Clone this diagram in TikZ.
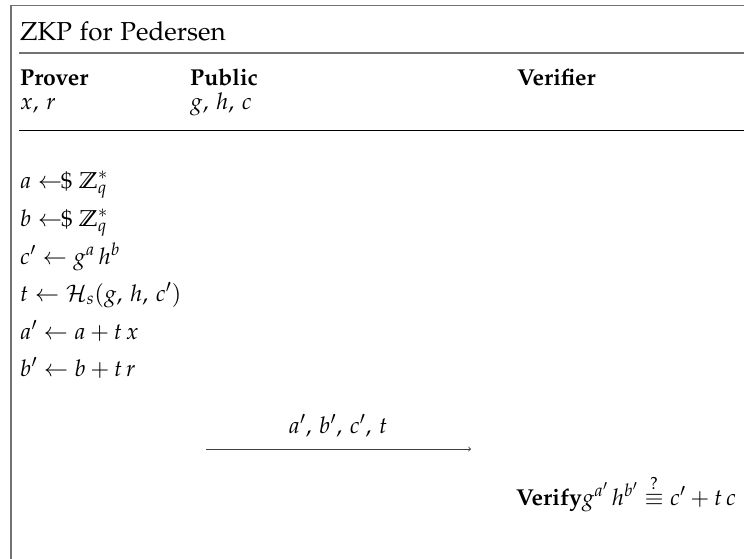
\documentclass[tikz,border=0pt]{standalone}
\usepackage[T1]{fontenc}
\usepackage{amsmath,amssymb}
\usepackage[sc]{mathpazo}
\newcommand{\smplarrow}{\mathrel{\leftarrow\!\!\text{\$}}}
\tikzset{
  body/.style={anchor=base west, inner sep=0pt, font=\fontsize{23}{27}\selectfont},
  ttl/.style={anchor=base west, inner sep=0pt, font=\fontsize{26}{31}\selectfont},
  hdr/.style={body, font=\fontsize{23}{27}\selectfont\bfseries},
  frameline/.style={draw=black!55, line width=1.4pt},
  rule/.style={draw=black, line width=1pt},
  msg/.style={draw=black!75, line width=0.9pt, ->},
}
\begin{document}
\begin{tikzpicture}[x=1pt,y=-1pt]
\useasboundingbox (0,0) rectangle (744,558);
% frame
\coordinate (tl) at (11,5.5);
\coordinate (tr) at (750,5.5);
\coordinate (bl) at (11,565);
\draw[frameline] (bl) -- (tl) -- (tr);
\coordinate (r1a) at (19,53);
\coordinate (r1b) at (750,53);
\draw[frameline] (r1a) -- (r1b);
\coordinate (r2a) at (19,130);
\coordinate (r2b) at (750,130);
\draw[rule] (r2a) -- (r2b);
% title
\node[ttl] (title) at (20,40) {ZKP for Pedersen};
% headers
\node[hdr] (prover) at (20,85) {Prover};
\node[hdr] (public) at (190,85) {Public};
\node[hdr] (verifier) at (517,85) {Verifier};
\node[body] (pin) at (20,109) {$x,\, r$};
\node[body] (pub) at (190,109) {$g,\, h,\, c$};
% prover steps
\node[body] (s1) at (20,188) {$a \smplarrow \mathbb{Z}_q^*$};
\node[body] (s2) at (20,226) {$b \smplarrow \mathbb{Z}_q^*$};
\node[body] (s3) at (20,264) {$c' \leftarrow g^a\,h^b$};
\node[body] (s4) at (20,301) {$t \leftarrow \mathcal{H}_s(g,\, h,\, c')$};
\node[body] (s5) at (20,339) {$a' \leftarrow a + t\,x$};
\node[body] (s6) at (20,376) {$b' \leftarrow b + t\,r$};
% message
\coordinate (m1) at (206,449);
\coordinate (m2) at (471,449);
\draw[msg] (m1) -- (m2);
\node[body, anchor=base] (mlab) at (338,433) {$a',\, b',\, c',\, t$};
% verify
\node[body] (ver) at (516,505) {\textbf{Verify}$g^{a'}\,h^{b'} \stackrel{?}{\equiv} c' + t\,c$};
\end{tikzpicture}
\end{document}
